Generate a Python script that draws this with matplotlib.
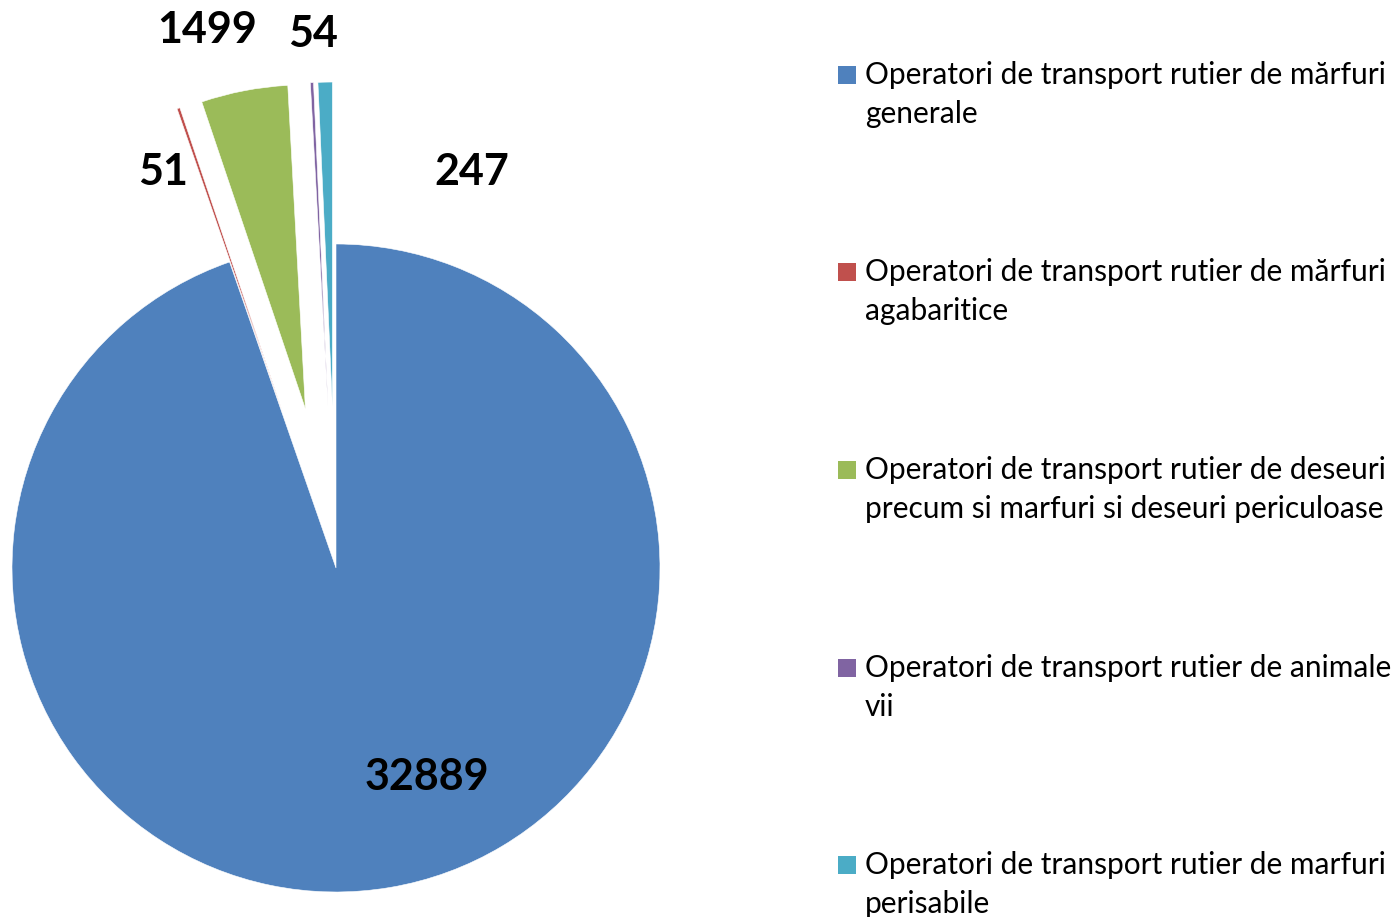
import matplotlib
matplotlib.use("Agg")
import matplotlib.pyplot as plt
from matplotlib.patches import Rectangle

# Data
categories = [
    "Operatori de transport rutier de mărfuri\ngenerale",
    "Operatori de transport rutier de mărfuri\nagabaritice",
    "Operatori de transport rutier de deseuri\nprecum si marfuri si deseuri periculoase",
    "Operatori de transport rutier de animale\nvii",
    "Operatori de transport rutier de marfuri\nperisabile",
]
values = [32889, 51, 1499, 54, 247]
colors = ["#4F81BD", "#C0504D", "#9BBB59", "#8064A2", "#4BACC6"]
explode = [0, 0.5, 0.5, 0.5, 0.5]
# label text positions in pixels (x, y from top), as placed in the original
label_px = [(427, 777), (163, 172), (207, 30), (313, 34), (472, 172)]

W, H = 1394, 917
fig = plt.figure(figsize=(W / 100, H / 100), dpi=100)
ax = fig.add_axes([0, 0, 1, 1])

# pie centre and radius in pixels
cx, cy, r = 336, 568, 324
ax.pie(values, colors=colors, explode=explode, startangle=90,
       counterclock=False, radius=1,
       wedgeprops=dict(edgecolor="white", linewidth=0.4))
ax.set_xlim(-cx / r, (W - cx) / r)
ax.set_ylim(-(H - cy) / r, cy / r)
ax.set_aspect("equal")
ax.axis("off")

for v, (px, py) in zip(values, label_px):
    fig.text(px / W, 1 - py / H, str(v), ha="center", va="center",
             fontsize=31, fontweight="bold", family="Lato", color="black")

# legend
leg_y = [75, 272, 470, 668, 865]
for lab, col, ly in zip(categories, colors, leg_y):
    fig.patches.append(Rectangle((838 / W, 1 - (ly + 9) / H), 18 / W, 18 / H,
                                 transform=fig.transFigure, facecolor=col,
                                 edgecolor="none"))
    fig.text(865 / W, 1 - (ly - 14) / H, lab, ha="left", va="top",
             fontsize=21.5, family="Lato", color="black", linespacing=1.48)

fig.savefig("out.png", dpi=100)
